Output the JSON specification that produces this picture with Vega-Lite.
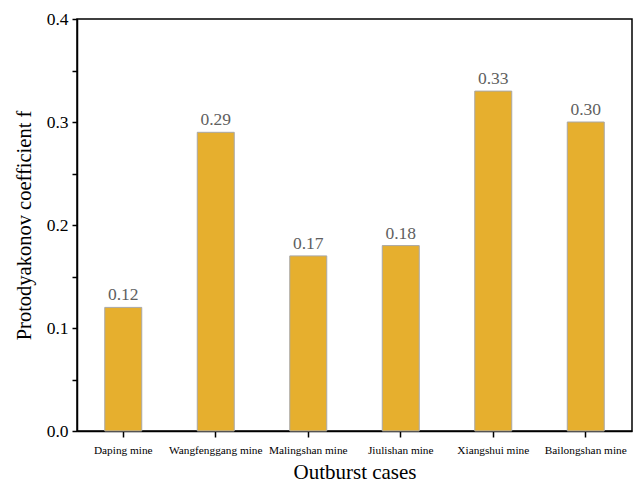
{
  "$schema": "https://vega.github.io/schema/vega-lite/v6.json",
  "width": 555,
  "height": 412,
  "autosize": "none",
  "padding": {"left": 77, "top": 19, "right": 1, "bottom": 53},
  "background": "white",
  "config": {
    "font": "Liberation Serif",
    "view": {"stroke": "black", "strokeWidth": 1.5}
  },
  "data": {
    "values": [
      {"mine": "Daping mine", "f": 0.12},
      {"mine": "Wangfenggang mine", "f": 0.29},
      {"mine": "Malingshan mine", "f": 0.17},
      {"mine": "Jiulishan mine", "f": 0.18},
      {"mine": "Xiangshui mine", "f": 0.33},
      {"mine": "Bailongshan mine", "f": 0.30}
    ]
  },
  "encoding": {
    "x": {
      "field": "mine",
      "type": "nominal",
      "sort": null,
      "scale": {"paddingInner": 0.6, "paddingOuter": 0.3},
      "axis": {
        "title": "Outburst cases",
        "titleFontSize": 21,
        "titleFontWeight": "normal",
        "titleColor": "black",
        "titlePadding": 6,
        "labelAngle": 0,
        "labelFontSize": 11.3,
        "labelColor": "black",
        "labelPadding": 7,
        "domainColor": "black",
        "domainWidth": 1.5,
        "tickColor": "black",
        "tickWidth": 1.5,
        "tickSize": 6
      }
    },
    "y": {
      "field": "f",
      "type": "quantitative",
      "scale": {"domain": [0, 0.4], "nice": false},
      "axis": {
        "title": "Protodyakonov coefficient f",
        "titleFontSize": 20.5,
        "titleFontWeight": "normal",
        "titleColor": "black",
        "titlePadding": 12,
        "values": [0, 0.05, 0.1, 0.15, 0.2, 0.25, 0.3, 0.35, 0.4],
        "labelExpr": "abs(datum.value*10 - round(datum.value*10)) < 0.01 ? format(datum.value, '.1f') : ''",
        "labelFontSize": 17.5,
        "labelColor": "black",
        "labelPadding": 4,
        "grid": false,
        "domainColor": "black",
        "domainWidth": 1.5,
        "tickColor": "black",
        "tickWidth": 1.5,
        "tickSize": 5
      }
    }
  },
  "layer": [
    {
      "mark": {"type": "bar", "fill": "#E6AF2E", "stroke": "#A8A8A8", "strokeWidth": 1}
    },
    {
      "mark": {"type": "text", "baseline": "alphabetic", "dy": -7, "fontSize": 17.5, "color": "#606060"},
      "encoding": {
        "text": {"field": "f", "type": "quantitative", "format": ".2f"}
      }
    }
  ]
}
